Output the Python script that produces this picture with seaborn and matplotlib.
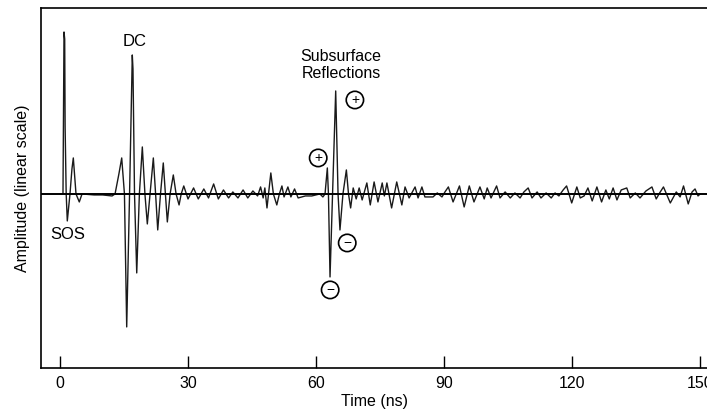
import numpy as np
import pandas as pd
import matplotlib
matplotlib.use('Agg')
import matplotlib.pyplot as plt
import seaborn as sns

# Waveform: peaks, troughs and zero crossings
time_ns = [
    0.0, 0.7, 0.94, 1.1, 1.2, 1.45, 1.71, 2.34, 2.8, 3.12, 3.4, 3.75, 4.52, 5.16, 8.0, 10.0, 12.2, 12.9,
    13.8, 14.46, 15.1, 15.63, 16.3, 16.94, 17.1, 17.46, 17.98, 18.6, 19.29, 19.9, 20.46, 21.1,
    21.87, 22.4, 22.9, 23.55, 24.2, 24.7, 25.15, 25.8, 26.55, 27.2, 27.9, 28.4,
    29.0, 30.0, 31.3, 32.4, 33.7, 34.8, 36.0, 37.1, 38.3, 39.5, 40.5, 41.7, 42.9, 44.0, 45.2, 46.3,
    47.0, 47.6, 48.0, 48.5, 49.4, 50.0, 50.8, 51.4, 52.0, 52.5, 53.4, 54.1, 54.96, 55.8, 57.5, 59.0, 60.9,
    61.6, 62.1, 62.64, 62.9, 63.27, 63.86, 64.6, 65.15, 65.6, 66.3, 67.1, 67.6, 68.1, 68.7, 69.4, 70.1,
    70.8, 71.9, 72.7, 73.6, 74.5, 75.5, 76.0, 76.6, 77.7, 78.9, 80.1, 80.85, 81.8, 83.2, 83.9, 84.8,
    85.5, 87.4, 88.4, 89.5, 90.2, 91.0, 92.1, 93.6, 94.7, 95.9, 97.0, 98.4, 99.4, 100.1, 101.0,
    102.3, 103.1, 104.3, 105.5, 106.6, 107.8, 108.7, 109.7, 110.6, 111.8, 112.7, 113.9, 115.1, 116.0,
    116.9, 117.9, 118.7, 119.9, 121.1, 121.9, 122.8, 123.7, 124.7, 125.8, 126.9, 127.9, 128.7, 129.6,
    130.5, 131.5, 132.8, 133.6, 134.8, 135.9, 137.3, 138.7, 139.7, 140.5, 141.4, 143.0, 144.4, 145.3,
    146.1, 147.2, 148.1, 148.8, 149.5, 150.0,
]
amplitude = [
    0.0, 0.0, 1.62, 1.55, 0.67, 0.0, -0.27, 0.0, 0.25, 0.36, 0.2, 0.0, -0.08, 0.0, -0.01, -0.01, -0.02, 0.0,
    0.2, 0.36, 0.0, -1.33, 0.0, 1.39, 1.25, 0.0, -0.79, 0.0, 0.47, 0.0, -0.3, 0.0,
    0.36, 0.0, -0.36, 0.0, 0.31, 0.0, -0.28, 0.0, 0.19, 0.0, -0.11, 0.0,
    0.08, -0.05, 0.06, -0.05, 0.05, -0.04, 0.10, -0.05, 0.04, -0.04, 0.02, -0.04, 0.04, -0.04, 0.03, -0.02,
    0.07, -0.04, 0.06, -0.14, 0.21, 0.0, -0.11, 0.0, 0.08, -0.03, 0.07, -0.03, 0.05, -0.04, -0.02, -0.02, 0.0,
    -0.03, 0.0, 0.26, 0.0, -0.83, 0.0, 1.03, 0.0, -0.36, 0.0, 0.24, 0.0, -0.14, 0.06, -0.05, 0.06,
    -0.06, 0.11, -0.11, 0.12, -0.08, 0.11, -0.02, 0.11, -0.14, 0.12, -0.11, 0.07, -0.04, 0.07, -0.04, 0.07,
    -0.03, -0.03, 0.01, -0.03, 0.02, 0.07, -0.08, 0.08, -0.13, 0.08, -0.08, 0.07, -0.05, 0.06, -0.04,
    0.08, -0.04, 0.02, -0.04, 0.01, -0.04, 0.02, 0.06, -0.04, 0.02, -0.04, 0.01, -0.04, 0.01,
    -0.02, 0.04, 0.08, -0.09, 0.07, -0.04, -0.02, 0.06, -0.07, 0.07, -0.08, 0.04, -0.05, 0.06,
    -0.06, 0.04, 0.06, -0.04, 0.01, -0.04, 0.03, 0.07, -0.05, 0.01, 0.07, -0.09, 0.02, -0.03,
    0.08, -0.1, 0.02, 0.05, -0.02, 0.0,
]
x_ticks = [0, 30, 60, 90, 120, 150]

df = pd.DataFrame({'time': time_ns, 'amp': amplitude})

sns.set_theme(style='white')
plt.rcParams['font.family'] = ['Liberation Sans', 'DejaVu Sans']
plt.rcParams['text.color'] = 'black'
plt.rcParams['axes.labelcolor'] = 'black'

fig = plt.figure(figsize=(7.07, 4.2), dpi=100)
ax = fig.add_axes([0.058, 0.124, 0.942, 0.857])

sns.lineplot(data=df, x='time', y='amp', estimator=None, sort=False,
             color='#1a1a1a', linewidth=1.0, ax=ax)
ax.axhline(0, color='black', linewidth=1.4, zorder=3)

ax.set_xlim(-4.45, 151.6)
ax.set_ylim(-1.74, 1.86)
ax.set_xticks(x_ticks)
ax.set_yticks([])
ax.tick_params(axis='x', direction='in', length=9, width=1, pad=6,
               labelsize=11.5, bottom=True, colors='black')
for side in ['left', 'bottom', 'top']:
    ax.spines[side].set_color('black')
    ax.spines[side].set_linewidth(1.2)
ax.spines['right'].set_visible(False)

ax.set_xlabel('Time (ns)', fontsize=11.5, labelpad=2)
ax.set_ylabel('Amplitude (linear scale)', fontsize=11.5, labelpad=8)

# Labels on the trace
ax.text(17.6, 1.52, 'DC', fontsize=12, ha='center', va='center')
ax.text(1.9, -0.41, 'SOS', fontsize=12, ha='center', va='center')
ax.text(65.9, 1.29, 'Subsurface\nReflections', fontsize=11.5, ha='center',
        va='center', linespacing=1.1)

signs = [('+', 60.5, 0.36), ('+', 69.1, 0.94), ('\u2212', 67.3, -0.49), ('\u2212', 63.3, -0.96)]
for s, tx, ty in signs:
    ax.text(tx, ty, s, fontsize=10, ha='center', va='center',
            bbox=dict(boxstyle='circle,pad=0.12', fc='white', ec='black', lw=1.2))

fig.savefig('out.png', dpi=100)
